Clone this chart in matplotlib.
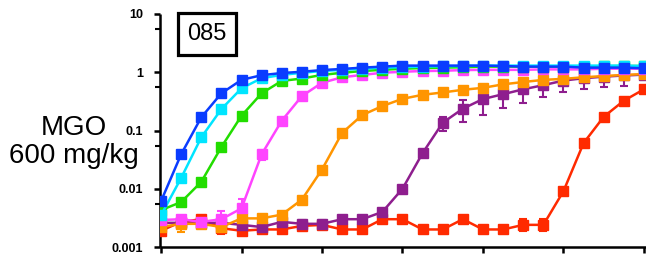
import numpy as np
import matplotlib
matplotlib.use("Agg")
import matplotlib.pyplot as plt
from matplotlib.patches import Rectangle

plt.rcParams['font.family'] = ['Liberation Sans', 'DejaVu Sans']

x = list(range(25))

blue = [0.0061, 0.039, 0.168, 0.435, 0.74, 0.89, 0.97, 1.02, 1.09, 1.14, 1.2, 1.25, 1.3,
        1.3, 1.3, 1.3, 1.3, 1.28, 1.25, 1.25, 1.25, 1.2, 1.2, 1.2, 1.17]
cyan = [0.0035, 0.0153, 0.076, 0.233, 0.53, 0.79, 0.9, 0.98, 1.05, 1.1, 1.15, 1.2, 1.22,
        1.25, 1.27, 1.28, 1.3, 1.3, 1.3, 1.3, 1.3, 1.3, 1.3, 1.3, 1.28]
green = [0.0043, 0.0059, 0.0131, 0.052, 0.179, 0.435, 0.71, 0.78, 0.9, 0.98, 1.05, 1.1, 1.15,
         1.18, 1.2, 1.22, 1.25, 1.25, 1.25, 1.25, 1.25, 1.25, 1.27, 1.28, 1.28]
magenta = [0.0029, 0.003, 0.0027, 0.003, 0.0046, 0.039, 0.147, 0.39, 0.66, 0.82, 0.9, 0.98, 1.02,
           1.05, 1.06, 1.09, 1.1, 1.1, 1.1, 1.12, 1.12, 1.12, 1.15, 1.15, 1.15]
orange = [0.0022, 0.0025, 0.0025, 0.0022, 0.0031, 0.0031, 0.0036, 0.0065, 0.0214, 0.091, 0.184,
          0.263, 0.35, 0.41, 0.45, 0.5, 0.54, 0.62, 0.68, 0.74, 0.77, 0.82, 0.86, 0.9, 0.93]
purple = [0.0026, 0.0026, 0.0026, 0.0026, 0.0024, 0.0022, 0.0027, 0.0025, 0.0025, 0.003, 0.003,
          0.004, 0.01, 0.041, 0.136, 0.237, 0.347, 0.42, 0.51, 0.6, 0.72, 0.79, 0.84, 0.88, 0.91]
red = [0.0019, 0.0027, 0.003, 0.0021, 0.0019, 0.002, 0.002, 0.0023, 0.0024, 0.002, 0.002, 0.003,
       0.003, 0.002, 0.002, 0.003, 0.002, 0.002, 0.0024, 0.0024, 0.0091, 0.061, 0.172, 0.325, 0.51]

# error bounds (index: (low, high))
magenta_err = {3: (0.0019, 0.0042), 4: (0.0032, 0.0066), 5: (0.031, 0.047)}
orange_err = {0: (0.0019, 0.0025), 1: (0.0018, 0.0031)}
purple_err = {7: (0.0021, 0.0029), 8: (0.0021, 0.0029), 14: (0.099, 0.168), 15: (0.14, 0.33),
              16: (0.184, 0.5), 17: (0.24, 0.55), 18: (0.3, 0.62), 19: (0.38, 0.7),
              20: (0.45, 0.8), 21: (0.51, 0.85), 22: (0.55, 0.9), 23: (0.59, 0.92)}
red_err = {3: (0.0017, 0.0025), 18: (0.0019, 0.003), 19: (0.0019, 0.003)}

series = [
    (red, '#FF2A00', red_err),
    (purple, '#8E1E8E', purple_err),
    (orange, '#FF9500', orange_err),
    (magenta, '#FF44FF', magenta_err),
    (green, '#22DD00', {}),
    (cyan, '#00E5FF', {}),
    (blue, '#0A3CFF', {}),
]

fig = plt.figure(figsize=(6.46, 2.57), dpi=100)
ax = fig.add_axes([160 / 646, 10 / 257, 1 - 160 / 646, (247 - 14) / 257])

for ys, col, err in series:
    if err:
        idx = sorted(err.keys())
        yy = np.array([ys[i] for i in idx])
        lo = yy - np.array([err[i][0] for i in idx])
        hi = np.array([err[i][1] for i in idx]) - yy
        ax.errorbar(idx, yy, yerr=[lo, hi], fmt='none', ecolor=col, elinewidth=1.5,
                    capsize=3, capthick=1.5, zorder=2)
    ax.plot(x, ys, '-s', color=col, lw=1.8, markersize=6.5, zorder=3)

ax.set_yscale('log')
ax.set_ylim(0.001, 10)
ax.set_xlim(-0.05, 24.1)

for s in ['top', 'right']:
    ax.spines[s].set_visible(False)
for s in ['left', 'bottom']:
    ax.spines[s].set_linewidth(1.8)
    ax.spines[s].set_capstyle('butt')

ax.set_xticks([0, 4, 8, 12, 16, 20, 24])
ax.set_xticklabels([])
ax.xaxis.set_minor_locator(matplotlib.ticker.NullLocator())
ax.tick_params(axis='x', which='major', length=4.5, width=1.8, direction='out')

yticks = [0.001, 0.01, 0.1, 1, 10]
ylabels = ['0.001', '0.01', '0.1', '1', '10']
ax.set_yticks(yticks)
ax.set_yticklabels(ylabels, fontweight='bold', fontsize=9)
ax.set_yticks([0.0055, 0.055, 0.55, 5.5], minor=True)
ax.yaxis.set_minor_formatter(matplotlib.ticker.NullFormatter())
ax.tick_params(axis='y', which='major', length=4, width=1.8, pad=8)
ax.tick_params(axis='y', which='minor', length=3.5, width=1.5)

fig.text(74 / 646, 1 - 135 / 257, 'MGO', ha='center', va='baseline', fontsize=20)
fig.text(74 / 646, 1 - 163 / 257, '600 mg/kg', ha='center', va='baseline', fontsize=20)

fig.patches.append(Rectangle((178 / 646, 1 - 55 / 257), 58 / 646, 42 / 257,
                             transform=fig.transFigure, fill=False, lw=2.3,
                             edgecolor='black', joinstyle='miter'))
fig.text(207 / 646, 1 - 34 / 257, '085', ha='center', va='center', fontsize=17)

fig.savefig('out.png', dpi=100)
